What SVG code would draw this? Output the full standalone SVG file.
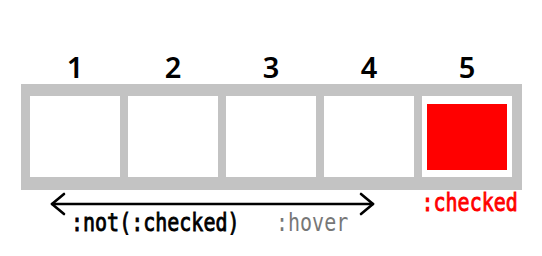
<svg xmlns="http://www.w3.org/2000/svg" width="542" height="256" viewBox="0 0 542 256">
<style>
.num{font-family:"Noto Sans","DejaVu Sans",sans-serif;font-size:29px;font-weight:600;fill:#000;text-anchor:middle}
.cell{fill:#fff}
.code{font-family:"DejaVu Sans Mono","Liberation Mono",monospace;font-size:20px;font-weight:normal;stroke-width:0.7}
.dark{fill:#000;stroke:#000}
.red{fill:#f00;stroke:#f00}
.light{fill:#777}
.conn{fill:none;stroke:#000;stroke-width:2.6;stroke-linecap:round;stroke-linejoin:round}
</style>
<rect width="542" height="256" fill="#fff"/>
<g id="frame"><rect x="21" y="84" width="501" height="106" fill="#c3c3c3"/></g>
<g id="node1"><rect class="cell" x="30" y="96" width="90" height="81"/><text class="num" x="75" y="78">1</text></g>
<g id="node2"><rect class="cell" x="128" y="96" width="90" height="81"/><text class="num" x="173" y="78">2</text></g>
<g id="node3"><rect class="cell" x="226" y="96" width="90" height="81"/><text class="num" x="271" y="78">3</text></g>
<g id="node4"><rect class="cell" x="324" y="96" width="90" height="81"/><text class="num" x="369" y="78">4</text></g>
<g id="node5"><rect class="cell" x="422" y="96" width="90" height="81"/><rect x="427" y="104" width="80" height="66" fill="#f00"/><text class="num" x="467" y="78">5</text></g>
<g id="connectors">
<line class="conn" x1="52" y1="204" x2="373" y2="204"/>
<polyline class="conn" points="64,194 52,204 64,214"/>
<polyline class="conn" points="361,194 373,204 361,214"/>
</g>
<g id="labels">
<text class="code dark" transform="translate(71,231) scale(1,1.24)">:not(:checked)</text>
<text class="code light" transform="translate(276,231) scale(1,1.24)">:hover</text>
<text class="code red" transform="translate(421.5,211) scale(1,1.24)">:checked</text>
</g>
</svg>
